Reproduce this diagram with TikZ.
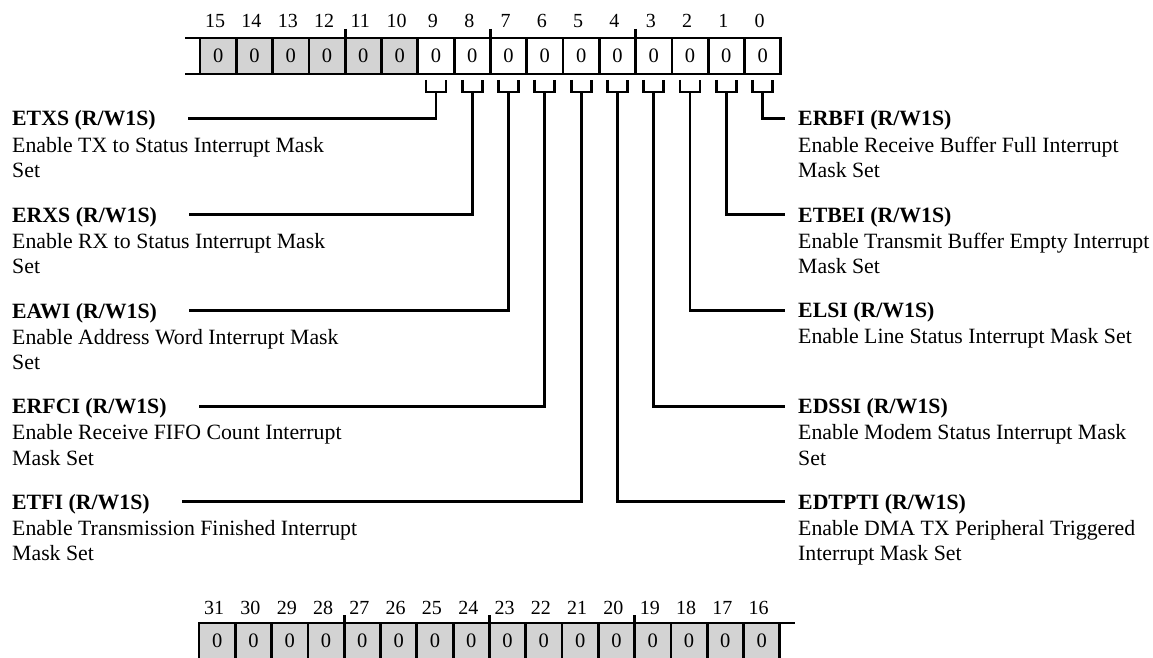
\documentclass[tikz,border=0pt]{standalone}
\usepackage{fontspec}
\setmainfont{Liberation Serif}
\definecolor{cellgray}{RGB}{211,211,211}
\begin{document}
\begin{tikzpicture}[x=1pt,y=-1pt,
  conn/.style={line width=2.8pt},
  cell/.style={draw,line width=2.8pt,minimum width=36.3pt,minimum height=36pt,inner sep=0pt,
    font=\fontsize{20.5}{22}\selectfont},
  bitno/.style={anchor=base,inner sep=0pt,font=\fontsize{20}{22}\selectfont},
  ttl/.style={anchor=base west,inner sep=0pt,font=\fontsize{21.8}{26}\selectfont\bfseries},
  dsc/.style={anchor=base west,inner sep=0pt,font=\fontsize{21.8}{26}\selectfont}]
\useasboundingbox (0,0) rectangle (1153,658);
\clip (0,0) rectangle (1153,658);

% ---------- top register (bits 15..0)
\draw[conn] (185,38) -- (200,38) (185,74) -- (200,74);
\foreach \i in {0,...,15}{
  \pgfmathtruncatemacro\b{15-\i}
  \pgfmathsetmacro\x{200+(\i+0.5)*36.3}
  \ifnum\b>9 \def\fc{cellgray}\else\def\fc{white}\fi
  \node[cell,fill=\fc] (c\b) at (\x,56) {0};
  \node[bitno] (n\b) at (\x-3,28) {\b};
}
\foreach \t in {4,8,12}{
  \draw[conn] (200+\t*36.3,29) -- (200+\t*36.3,38);
}
% brackets
\foreach \b in {0,...,9}{
  \pgfmathsetmacro\x{200+(15-\b+0.5)*36.3}
  \draw[conn] (\x-10,80) -- (\x-10,92) -- (\x+10,92) -- (\x+10,80);
  \coordinate (k\b) at (\x,92);
}

% ---------- left labels
\node[ttl] (t9) at (12,126) {ETXS (R/W1S)};
\node[dsc] (d9a) at (12,152) {Enable TX to Status Interrupt Mask};
\node[dsc] (d9b) at (12,177.5) {Set};

\node[ttl] (t8) at (12,222) {ERXS (R/W1S)};
\node[dsc] (d8a) at (12,248) {Enable RX to Status Interrupt Mask};
\node[dsc] (d8b) at (12,273.5) {Set};

\node[ttl] (t7) at (12,318) {EAWI (R/W1S)};
\node[dsc] (d7a) at (12,344) {Enable Address Word Interrupt Mask};
\node[dsc] (d7b) at (12,369.5) {Set};

\node[ttl] (t6) at (12,413.5) {ERFCI (R/W1S)};
\node[dsc] (d6a) at (12,439.5) {Enable Receive FIFO Count Interrupt};
\node[dsc] (d6b) at (12,465) {Mask Set};

\node[ttl] (t5) at (12,509) {ETFI (R/W1S)};
\node[dsc] (d5a) at (12,535) {Enable Transmission Finished Interrupt};
\node[dsc] (d5b) at (12,560.5) {Mask Set};

% ---------- right labels
\node[ttl] (t0) at (798,126) {ERBFI (R/W1S)};
\node[dsc] (d0a) at (798,152) {Enable Receive Buffer Full Interrupt};
\node[dsc] (d0b) at (798,177.5) {Mask Set};

\node[ttl] (t1) at (798,222) {ETBEI (R/W1S)};
\node[dsc] (d1a) at (798,248) {Enable Transmit Buffer Empty Interrupt};
\node[dsc] (d1b) at (798,273.5) {Mask Set};

\node[ttl] (t2) at (798,317.5) {ELSI (R/W1S)};
\node[dsc] (d2a) at (798,343.5) {Enable Line Status Interrupt Mask Set};

\node[ttl] (t3) at (798,413.5) {EDSSI (R/W1S)};
\node[dsc] (d3a) at (798,439.5) {Enable Modem Status Interrupt Mask};
\node[dsc] (d3b) at (798,465) {Set};

\node[ttl] (t4) at (798,509) {EDTPTI (R/W1S)};
\node[dsc] (d4a) at (798,535) {Enable DMA TX Peripheral Triggered};
\node[dsc] (d4b) at (798,560.5) {Interrupt Mask Set};

% ---------- connectors
\foreach \b in {5,...,9}{
  \draw[conn] (k\b) |- ([xshift=32pt,yshift=2pt]t\b.east);
}
\foreach \b in {0,...,4}{
  \draw[conn] (k\b) |- ([xshift=-13pt,yshift=2pt]t\b.west);
}

% ---------- bottom register (bits 31..16)
\draw[conn] (780,623) -- (795,623) (780,659) -- (795,659);
\foreach \i in {0,...,15}{
  \pgfmathtruncatemacro\b{31-\i}
  \pgfmathsetmacro\x{199+(\i+0.5)*36.3}
  \node[cell,fill=cellgray] (c\b) at (\x,641) {0};
  \node[bitno] (n\b) at (\x-3,614) {\b};
}
\foreach \t in {4,8,12}{
  \draw[conn] (199+\t*36.3,615) -- (199+\t*36.3,623);
}
\end{tikzpicture}
\end{document}
